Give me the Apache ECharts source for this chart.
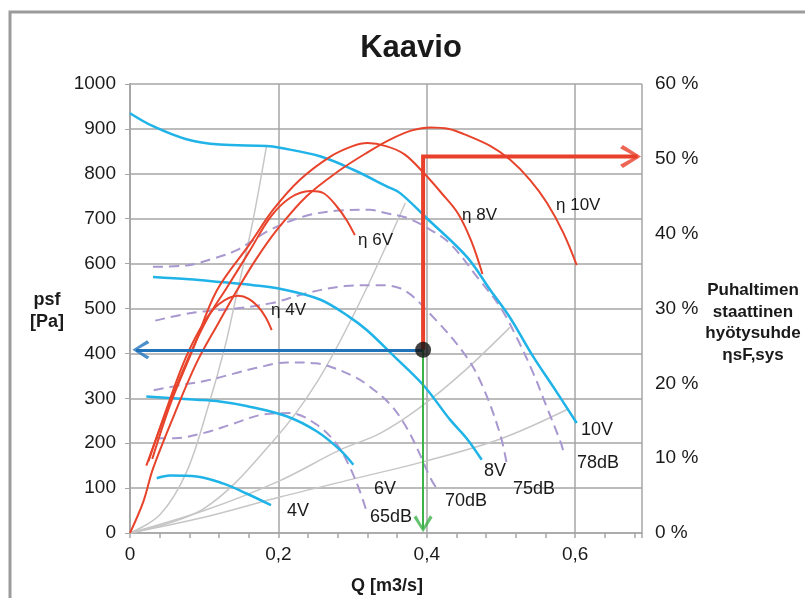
<!DOCTYPE html>
<html><head><meta charset="utf-8">
<script src="https://cdn.jsdelivr.net/npm/echarts@6/dist/echarts.min.js"></script>
<style>html,body{margin:0;padding:0;background:#fff}#c{width:805px;height:598px}</style>
</head><body><div id="c"></div>
<script>
// ---- Fan curves: [Q m3/s, psf Pa] ----
const fan10V = [[0,935],[0.031,906],[0.076,877],[0.121,865],[0.184,862],[0.202,858],[0.256,839],[0.301,809],[0.346,772],[0.364,757],[0.4,701],[0.454,615],[0.486,540],[0.512,480],[0.544,391],[0.571,324],[0.602,245]];
const fan8V = [[0.031,570],[0.08,565],[0.121,559],[0.166,552],[0.202,544],[0.256,520],[0.295,482],[0.319,452],[0.355,395],[0.396,328],[0.431,253],[0.454,210],[0.474,163]];
const fan6V = [[0.022,304],[0.09,297],[0.121,293],[0.157,283],[0.211,260],[0.252,226],[0.283,185],[0.301,152]];
const fan4V = [[0.036,122],[0.054,128],[0.09,126],[0.126,110],[0.157,88],[0.19,62]];

// ---- Static efficiency curves: [Q, %] ----
const eff10V = [[0,0],[0.018,4.2],[0.031,8.6],[0.06,15.9],[0.09,22.8],[0.12,28.2],[0.144,32.4],[0.17,36.6],[0.198,40.5],[0.238,45.0],[0.283,48.5],[0.319,50.8],[0.351,52.6],[0.38,53.8],[0.405,54.2],[0.43,54.0],[0.45,53.3],[0.486,51.7],[0.512,49.9],[0.539,47.2],[0.562,44.1],[0.584,40.1],[0.602,35.8]];
const eff8V = [[0.03,9.9],[0.055,17.4],[0.085,24.6],[0.117,32.4],[0.162,38.7],[0.193,43.2],[0.229,47.2],[0.27,50.3],[0.3,51.7],[0.32,52.1],[0.345,51.7],[0.37,50.6],[0.396,48.1],[0.42,45.4],[0.442,42.7],[0.46,39.0],[0.475,34.6]];
const eff6V = [[0.022,9.0],[0.05,16.5],[0.08,23.7],[0.105,28.8],[0.13,32.7],[0.16,37.5],[0.19,42.3],[0.216,44.8],[0.243,45.7],[0.261,45.4],[0.279,43.6],[0.292,41.8],[0.303,39.8]];
const eff4V = [[0.025,9.6],[0.05,16.8],[0.075,23.4],[0.1,28.2],[0.12,30.6],[0.146,31.7],[0.16,31.3],[0.173,30.2],[0.183,28.8],[0.191,27.1]];

// ---- Sound level curves: [Q, psf] ----
const sound65 = [[0.035,211],[0.06,211],[0.1,223],[0.135,241],[0.18,264],[0.216,267],[0.252,241],[0.279,197],[0.297,144],[0.31,92],[0.319,47]];
const sound70 = [[0.032,318],[0.07,330],[0.102,339],[0.14,355],[0.171,368],[0.212,380],[0.25,378],[0.274,368],[0.3,350],[0.319,331],[0.351,286],[0.373,234],[0.391,174],[0.405,122],[0.415,95]];
const sound75 = [[0.034,473],[0.083,490],[0.142,500],[0.191,512],[0.24,535],[0.29,550],[0.33,552],[0.364,545],[0.409,480],[0.454,391],[0.476,324],[0.499,219],[0.508,152]];
const sound78 = [[0.031,593],[0.076,596],[0.11,610],[0.144,630],[0.189,675],[0.234,705],[0.28,718],[0.323,720],[0.346,712],[0.373,702],[0.4,680],[0.431,645],[0.468,570],[0.499,503],[0.521,436],[0.544,354],[0.562,279],[0.58,204],[0.584,182]];

// ---- System (duct) curves: [Q, psf] ----
const sys1 = [[0,0],[0.04,40],[0.076,135],[0.106,285],[0.128,415],[0.142,518],[0.165,690],[0.184,862]];
const sys2 = [[0,0],[0.1,55],[0.193,205],[0.252,336],[0.31,515],[0.371,735]];
const sys3 = [[0,0],[0.1,50],[0.2,115],[0.283,185],[0.337,222],[0.391,280],[0.45,360],[0.512,458]];
const sys4 = [[0,0],[0.1,35],[0.202,80],[0.3,120],[0.396,159],[0.5,210],[0.589,275]];

// ---- Operating point reading ----
const opQ = 0.395, opP = 408, opEffPct = 50.3;
const redArrowEndQ = 0.688, blueArrowEndQ = 0.004, greenArrowEndP = 3;

// ---- Axis ticks / labels ----
const xMajorTicks = [0, 0.2, 0.4, 0.6];
const leftTicks = [0,100,200,300,400,500,600,700,800,900,1000];
const rightTicks = [0,10,20,30,40,50,60];

const FONT = '"Liberation Sans", Arial, sans-serif';
const BLUE = '#20b3e8', RED = '#e8432b', LAV = '#a898cf', SYS = '#c6c6c6', GRID = '#a6a6a6';
const effToP = v => v / 60 * 1000;

function ln(data, color, width, opts) {
  return Object.assign({
    type: 'line', data, showSymbol: false, symbol: 'none', smooth: 0.35,
    lineStyle: { color, width }, xAxisIndex: 0, yAxisIndex: 0, silent: true, z: 3
  }, opts || {});
}

const chevRight = 'path://M0,14 L14,0 L100,50 L14,100 L0,86 L72,50 Z';
const chevLeft = 'path://M100,14 L86,0 L0,50 L86,100 L100,86 L28,50 Z';
const chevDown = 'path://M14,0 L0,14 L50,100 L100,14 L86,0 L50,72 Z';
const dashed = {color:LAV, width:2, type:[10,6]};

const series = [
  ln(sys1, SYS, 1.5, {z:1}), ln(sys2, SYS, 1.5, {z:1}), ln(sys3, SYS, 1.5, {z:1}), ln(sys4, SYS, 1.5, {z:1}),
  ln(sound65, LAV, 2, {lineStyle:dashed, z:2}),
  ln(sound70, LAV, 2, {lineStyle:dashed, z:2}),
  ln(sound75, LAV, 2, {lineStyle:dashed, z:2}),
  ln(sound78, LAV, 2, {lineStyle:dashed, z:2}),
  ln(fan10V, BLUE, 2.5), ln(fan8V, BLUE, 2.5), ln(fan6V, BLUE, 2.5), ln(fan4V, BLUE, 2.5),
  ln(eff10V, RED, 2, {yAxisIndex:1, z:4}), ln(eff8V, RED, 2, {yAxisIndex:1, z:4}),
  ln(eff6V, RED, 2, {yAxisIndex:1, z:4}), ln(eff4V, RED, 2, {yAxisIndex:1, z:4}),
  { type:'lines', coordinateSystem:'cartesian2d', xAxisIndex:0, yAxisIndex:0, silent:true, z:8,
    lineStyle:{color:'#e8402a', width:4, opacity:1},
    data:[{coords:[[opQ,opP],[opQ,effToP(opEffPct)],[redArrowEndQ-0.004,effToP(opEffPct)]]}], polyline:true },
  { type:'lines', coordinateSystem:'cartesian2d', xAxisIndex:0, yAxisIndex:0, silent:true, z:8,
    lineStyle:{color:'#1f73bb', width:3, opacity:1},
    data:[{coords:[[opQ,opP],[blueArrowEndQ+0.004,opP]]}] },
  { type:'lines', coordinateSystem:'cartesian2d', xAxisIndex:0, yAxisIndex:0, silent:true, z:8,
    lineStyle:{color:'#3db34a', width:2, opacity:1},
    data:[{coords:[[opQ,opP],[opQ,greenArrowEndP+6]]}] },
  { type:'scatter', silent:true, z:9, xAxisIndex:0, yAxisIndex:0,
    data:[[redArrowEndQ, effToP(opEffPct)]], symbol:chevRight, symbolSize:[21,23], symbolOffset:[-10,0],
    itemStyle:{color:'#e8402a'} },
  { type:'scatter', silent:true, z:9, xAxisIndex:0, yAxisIndex:0,
    data:[[blueArrowEndQ, opP]], symbol:chevLeft, symbolSize:[17,19], symbolOffset:[8,0],
    itemStyle:{color:'#1f73bb'} },
  { type:'scatter', silent:true, z:9, xAxisIndex:0, yAxisIndex:0,
    data:[[opQ, greenArrowEndP]], symbol:chevDown, symbolSize:[19,17], symbolOffset:[0,-8],
    itemStyle:{color:'#3db34a'} },
  { type:'scatter', silent:true, z:10, xAxisIndex:0, yAxisIndex:0,
    data:[[opQ, opP]], symbol:'circle', symbolSize:16, itemStyle:{color:'#111'} }
];

function txt(text, x, y, size, opts) {
  return Object.assign({ type:'text', x, y, silent:true, z:20,
    style:{ text, font: (opts && opts.bold ? 'bold ' : '') + size + 'px ' + FONT, fill:'#1a1a1a',
      align:(opts && opts.align) || 'left', verticalAlign:'middle', lineHeight:(opts && opts.lh) || size } });
}

const graphics = [
  { type:'rect', silent:true, z:0, shape:{x:10, y:12, width:900, height:700}, style:{fill:'none', stroke:'#9b9b9b', lineWidth:3} },
  txt('Kaavio', 411, 48, 31, {bold:true, align:'center'}),
  txt('psf\n[Pa]', 47, 311, 18, {bold:true, align:'center', lh:22}),
  txt('Puhaltimen\nstaattinen\nhyötysuhde\nηsF,sys', 753, 323, 17, {bold:true, align:'center', lh:21.5}),
  txt('Q [m3/s]', 387, 586, 18, {bold:true, align:'center'}),
  txt('η 10V', 556, 205, 17), txt('η 8V', 462, 215, 17), txt('η 6V', 358, 240, 17), txt('η 4V', 271, 310, 17),
  txt('10V', 581, 430, 18), txt('8V', 484, 471, 18), txt('6V', 374, 489, 18), txt('4V', 287, 511, 18),
  txt('78dB', 577, 463, 18), txt('75dB', 513, 489, 18), txt('70dB', 445, 501, 18), txt('65dB', 370, 517, 18)
];

const labelStyle = { color:'#1a1a1a', fontSize:19, fontFamily:FONT };
const isMajor = v => xMajorTicks.some(t => Math.abs(t - v) < 1e-6);

const option = {
  animation:false,
  backgroundColor:'#fff',
  grid:{ left:130, right:163, top:84, bottom:65, outerBoundsMode:'none', containLabel:false },
  xAxis:[
    { type:'value', min:0, max:0.69, interval:0.2, position:'bottom',
      axisLine:{show:true, lineStyle:{color:GRID, width:1.5}},
      axisTick:{show:false},
      splitLine:{show:true, lineStyle:{color:GRID, width:1.5}},
      axisLabel:Object.assign({margin:12, showMaxLabel:false,
        formatter:v => isMajor(v) ? String(+v.toFixed(1)).replace('.', ',') : ''}, labelStyle) },
    { type:'value', min:0, max:0.69, interval:0.04, position:'bottom',
      axisLine:{show:false}, splitLine:{show:false}, axisLabel:{show:false},
      axisTick:{show:true, length:5, lineStyle:{color:GRID, width:1.5}} }
  ],
  yAxis:[
    { type:'value', min:0, max:1000, interval:100, position:'left',
      axisLine:{show:true, lineStyle:{color:GRID, width:1.5}},
      axisTick:{show:true, length:5, lineStyle:{color:GRID}},
      splitLine:{show:true, lineStyle:{color:GRID, width:1.5}},
      axisLabel:Object.assign({margin:14, formatter:v => leftTicks.includes(v) ? String(v) : ''}, labelStyle) },
    { type:'value', min:0, max:60, interval:10, position:'right',
      axisLine:{show:true, lineStyle:{color:GRID, width:1.5}},
      axisTick:{show:false},
      splitLine:{show:false},
      axisLabel:Object.assign({margin:13, formatter:v => rightTicks.includes(v) ? v + ' %' : ''}, labelStyle) }
  ],
  series,
  graphic:graphics
};

const chart = echarts.init(document.getElementById('c'), null, {renderer:'canvas'});
chart.setOption(option);
</script>
</body></html>
